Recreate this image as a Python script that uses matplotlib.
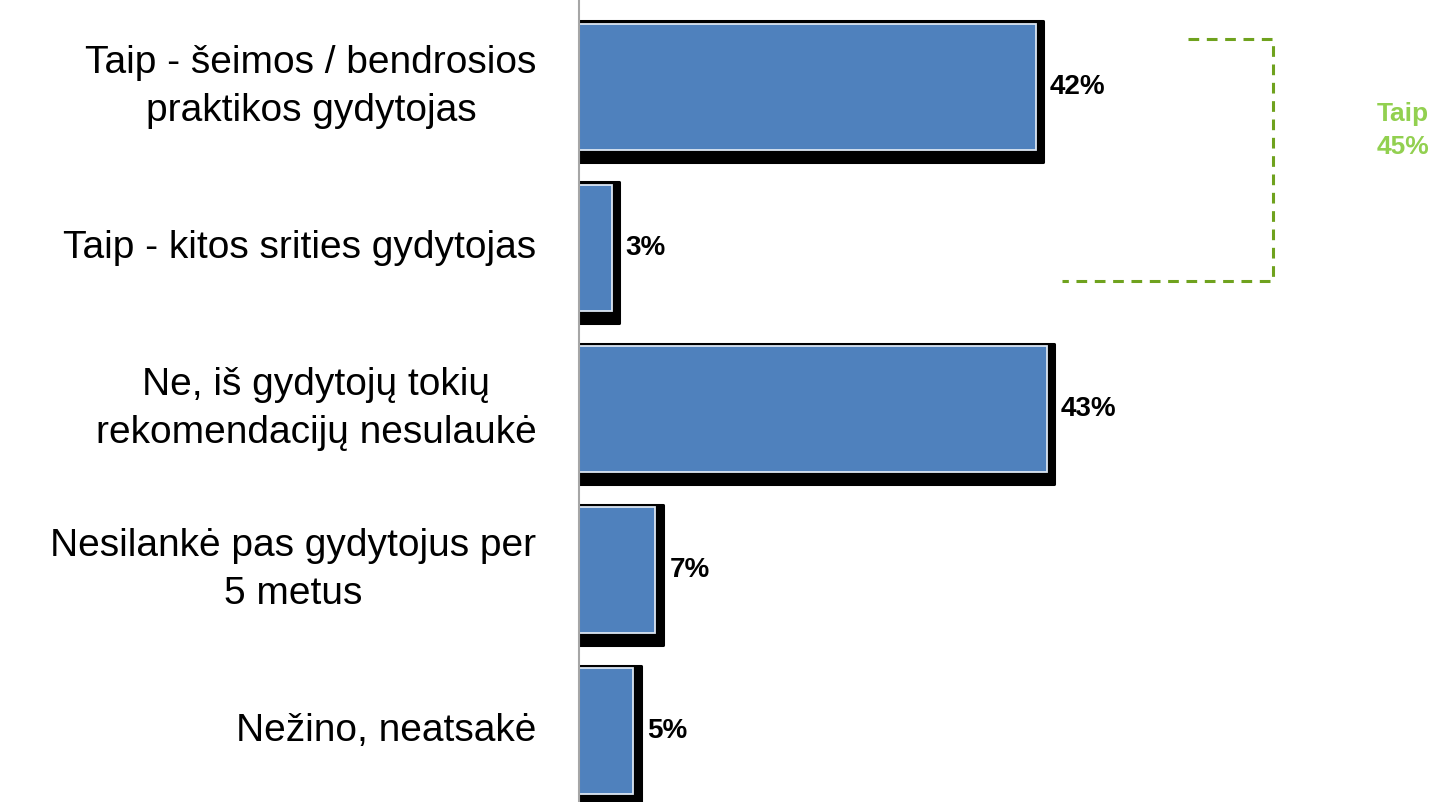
import matplotlib
matplotlib.use('Agg')
import matplotlib.pyplot as plt

plt.rcParams['font.family'] = ['Liberation Sans', 'DejaVu Sans']

categories = [
    'Taip - šeimos / bendrosios\npraktikos gydytojas',
    'Taip - kitos srities gydytojas',
    'Ne, iš gydytojų tokių\nrekomendacijų nesulaukė',
    'Nesilankė pas gydytojus per\n5 metus',
    'Nežino, neatsakė',
]
values = [42, 3, 43, 7, 5]
value_labels = ['42%', '3%', '43%', '7%', '5%']
group_label = 'Taip\n45%'

bar_color = '#4F81BD'
green_text = '#92D050'
green_line = '#6FA21E'

px = 10.88  # pixels per percent

fig = plt.figure(figsize=(14.35, 8.02), dpi=100)
ax = fig.add_axes([579 / 1435, 0, 1 - 579 / 1435, 1])

y = list(range(len(values)))

# black shadow / outline behind each bar
shadow_w = [v + 7.5 / px for v in values]
shadow_y = [yi + 0.028 for yi in y]
sh = ax.barh(shadow_y, shadow_w, height=0.87, color='black',
             edgecolor='black', linewidth=2.2, zorder=2)
for p in sh:
    p.set_joinstyle('round')

ax.barh(y, values, height=0.783, color=bar_color,
        edgecolor='#DCE6F2', linewidth=1.3, zorder=3)

for yi, v, lab in zip(y, values, value_labels):
    ax.text(v + 1.3, yi, lab, ha='left', va='center', fontsize=20,
            fontweight='bold', color='black', zorder=4)

for yi, cat in zip(y, categories):
    ax.text(-3.9, yi, cat, ha='right', va='center', multialignment='center',
            fontsize=28, color='black', linespacing=1.4)

# bracket for "Taip" group
ax.plot([56, 63.8, 63.8, 44.4], [-0.30, -0.30, 1.205, 1.205],
        color=green_line, linestyle=(0, (3.5, 2.5)), linewidth=2.2, zorder=2)
ax.text(75.7, 0.27, group_label, ha='center', va='center', fontsize=19,
        fontweight='bold', color=green_text, linespacing=1.45)

ax.set_xlim(0, 856 / px)
ax.set_ylim(4.44, -0.54)
ax.set_xticks([])
ax.set_yticks([])
for s in ['top', 'right', 'bottom']:
    ax.spines[s].set_visible(False)
ax.spines['left'].set_color('#A6A6A6')
ax.spines['left'].set_linewidth(1.5)
ax.spines['left'].set_zorder(5)
ax.patch.set_alpha(0)

fig.savefig('out.png', dpi=100)
